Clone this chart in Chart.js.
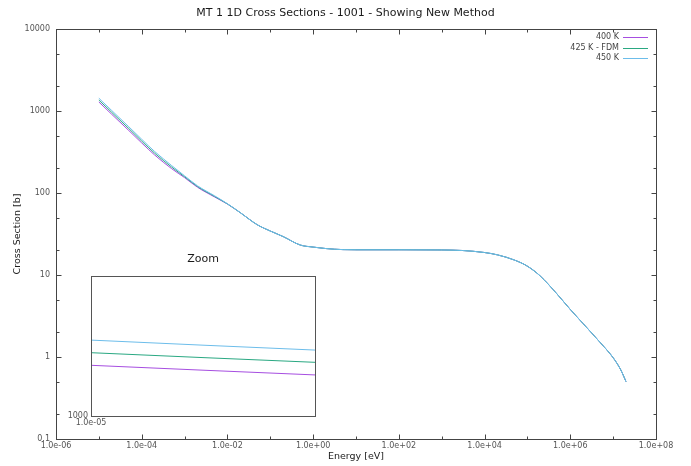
<!DOCTYPE html>
<html>
<head>
<meta charset="utf-8">
<script src="https://cdn.jsdelivr.net/npm/chart.js@4/dist/chart.umd.min.js"></script>
<style>
  html, body { margin: 0; padding: 0; background: #fff; }
  #wrap { position: relative; width: 691px; height: 466px; }
  #wrap canvas { position: absolute; left: 0; top: 0; }
</style>
</head>
<body>
<div id="wrap">
  <canvas id="main" width="691" height="466"></canvas>
  <canvas id="zoom" width="691" height="466"></canvas>
</div>
<script>
// Total cross section (MT 1) of H-1 at three temperatures, energies in eV, values in barns
const energy = [1e-5, 2e-5, 5e-5, 1e-4, 2e-4, 5e-4, 1e-3, 2e-3, 5e-3, 1e-2, 2e-2, 5e-2,
                0.1, 0.2, 0.5, 1, 2, 5, 10, 100, 1e3, 3e3, 1e4, 2e4, 5e4, 1e5, 2e5, 5e5,
                1e6, 2e6, 5e6, 1e7, 1.5e7, 2e7];
const xs400 = [1288, 911, 578, 408, 291, 198, 154, 117.5, 89.5, 73.3, 57.5, 40.9,
               34.4, 29.4, 23.2, 21.9, 21.0, 20.4, 20.3, 20.3, 20.2, 19.9, 18.8, 17.6, 15.2, 12.8, 9.7, 5.8,
               3.8, 2.55, 1.5, 0.98, 0.70, 0.5];
const xs425 = [1360, 962, 610, 430, 306, 207, 158, 120, 91, 73.6, 57.5, 40.9,
               34.4, 29.4, 23.2, 21.9, 21.0, 20.4, 20.3, 20.3, 20.2, 19.9, 18.8, 17.6, 15.2, 12.8, 9.7, 5.8,
               3.8, 2.55, 1.5, 0.98, 0.70, 0.5];
const xs450 = [1432, 1013, 642, 452, 321, 216, 162, 122.5, 92.5, 74, 57.5, 40.9,
               34.4, 29.4, 23.2, 21.9, 21.0, 20.4, 20.3, 20.3, 20.2, 19.9, 18.8, 17.6, 15.2, 12.8, 9.7, 5.8,
               3.8, 2.55, 1.5, 0.98, 0.70, 0.5];

// Close-up of the lowest energies
const zoomEnergy = [1.0e-5, 1.05e-5, 1.1e-5];
const zoom400 = [1288, 1260, 1233];
const zoom425 = [1360, 1332, 1305];
const zoom450 = [1432, 1403, 1375];

const seriesLabels = ['400 K', '425 K - FDM', '450 K'];
const seriesColors = ['#a64ee0', '#2aa882', '#6cbdea'];

const xTickValues = [1e-6, 1e-5, 1e-4, 1e-3, 1e-2, 1e-1, 1e0, 1e1, 1e2, 1e3, 1e4, 1e5, 1e6, 1e7, 1e8];
const xTickLabels = ['1.0e-06', '', '1.0e-04', '', '1.0e-02', '', '1.0e+00', '',
                     '1.0e+02', '', '1.0e+04', '', '1.0e+06', '', '1.0e+08'];
const yTickValues = [0.1, 1, 10, 100, 1000, 10000];
const yTickLabels = ['0.1', '1', '10', '100', '1000', '10000'];
const yMinorValues = [0.2, 0.5, 2, 5, 20, 50, 200, 500, 2000, 5000];

Chart.defaults.font.family = "'DejaVu Sans', sans-serif";

const pts = (xs, ys) => xs.map((x, i) => ({ x: x, y: ys[i] }));

// Frame around the plot with inward tick marks on all four sides
const frameTicks = {
  id: 'frameTicks',
  afterDatasetsDraw(chart, args, opts) {
    const { ctx, chartArea: a } = chart;
    const sx = chart.scales.x, sy = chart.scales.y;
    const L = Math.round(a.left) + 0.5, R = Math.round(a.right) + 0.5;
    const T = Math.round(a.top) + 0.5, B = Math.round(a.bottom) + 0.5;
    ctx.save();
    ctx.strokeStyle = opts.color || '#444';
    ctx.lineWidth = 1;
    ctx.beginPath();
    (opts.xMajor || []).forEach((v, i) => {
      const len = (opts.xLong && !opts.xLong[i]) ? 3 : 5;
      const p = Math.round(sx.getPixelForValue(v)) + 0.5;
      if (p <= L || p >= R) return;
      ctx.moveTo(p, B); ctx.lineTo(p, B - len);
      ctx.moveTo(p, T); ctx.lineTo(p, T + len);
    });
    (opts.yMajor || []).forEach(v => {
      const p = Math.round(sy.getPixelForValue(v)) + 0.5;
      if (p <= T || p >= B) return;
      ctx.moveTo(L, p); ctx.lineTo(L + 5, p);
      ctx.moveTo(R, p); ctx.lineTo(R - 5, p);
    });
    (opts.yMinor || []).forEach(v => {
      const p = Math.round(sy.getPixelForValue(v)) + 0.5;
      if (p <= T || p >= B) return;
      ctx.moveTo(L, p); ctx.lineTo(L + 3, p);
      ctx.moveTo(R, p); ctx.lineTo(R - 3, p);
    });
    ctx.stroke();
    ctx.strokeRect(L, T, R - L, B - T);
    ctx.restore();
  }
};

// Key in the upper right corner: label text, then a line sample
const cornerKey = {
  id: 'cornerKey',
  afterDraw(chart) {
    const { ctx, chartArea: a } = chart;
    ctx.save();
    ctx.font = "8px 'DejaVu Sans', sans-serif";
    ctx.textAlign = 'right';
    ctx.textBaseline = 'middle';
    chart.data.datasets.forEach((ds, i) => {
      const y = a.top + 8 + i * 10.5;
      ctx.fillStyle = '#444';
      ctx.fillText(ds.label, a.right - 37, y);
      ctx.strokeStyle = ds.borderColor;
      ctx.lineWidth = 1;
      ctx.beginPath();
      ctx.moveTo(a.right - 33, Math.round(y) + 0.5);
      ctx.lineTo(a.right - 8, Math.round(y) + 0.5);
      ctx.stroke();
    });
    ctx.restore();
  }
};

// White fill behind the close-up panel
const panelFill = {
  id: 'panelFill',
  beforeDatasetsDraw(chart) {
    const { ctx, chartArea: a } = chart;
    ctx.save();
    ctx.fillStyle = '#fff';
    ctx.fillRect(a.left, a.top, a.right - a.left, a.bottom - a.top);
    ctx.restore();
  }
};

const seriesData = [xs400, xs425, xs450];
new Chart(document.getElementById('main'), {
  type: 'line',
  data: {
    datasets: seriesData.map((ys, i) => ({
      label: seriesLabels[i],
      data: pts(energy, ys),
      borderColor: seriesColors[i],
      order: 2 - i
    }))
  },
  options: {
    responsive: false,
    animation: false,
    devicePixelRatio: 1,
    layout: { padding: 0 },
    elements: {
      point: { radius: 0 },
      line: { borderWidth: 1, cubicInterpolationMode: 'monotone' }
    },
    plugins: {
      legend: { display: false },
      tooltip: { enabled: false },
      title: {
        display: true,
        text: 'MT 1 1D Cross Sections - 1001 - Showing New Method',
        color: '#1a1a1a',
        font: { size: 11, weight: 'normal' },
        padding: { top: 6.5, bottom: 9.3 }
      },
      frameTicks: {
        color: '#444',
        xMajor: xTickValues,
        xLong: xTickLabels.map(s => s !== ''),
        yMajor: yTickValues,
        yMinor: yMinorValues
      }
    },
    scales: {
      x: {
        type: 'logarithmic',
        min: 1e-6, max: 1e8,
        afterBuildTicks(s) { s.ticks = xTickValues.map(v => ({ value: v })); },
        afterFit(s) { s.height = 27; },
        grid: { display: false, drawTicks: false },
        border: { display: false },
        ticks: {
          autoSkip: false, maxRotation: 0, minRotation: 0,
          color: '#555', font: { size: 8 }, padding: 2,
          callback: (v, i) => xTickLabels[i]
        },
        title: {
          display: true, text: 'Energy [eV]', color: '#1a1a1a',
          font: { size: 9.5 }, padding: { top: 0, bottom: 3.3 }
        }
      },
      y: {
        type: 'logarithmic',
        min: 0.1, max: 10000,
        afterBuildTicks(s) { s.ticks = yTickValues.map(v => ({ value: v })); },
        afterFit(s) { s.width = 56; },
        grid: { display: false, drawTicks: false },
        border: { display: false },
        ticks: {
          autoSkip: false, color: '#555', font: { size: 8 }, padding: 6,
          callback: (v, i) => yTickLabels[i]
        },
        title: {
          display: true, text: 'Cross Section [b]', color: '#1a1a1a',
          font: { size: 9.5 }, padding: { top: 12, bottom: 0 }
        }
      },
      // empty margin on the right side of the plot
      yRight: {
        type: 'linear',
        position: 'right',
        afterFit(s) { s.width = 35; },
        grid: { display: false, drawTicks: false },
        border: { display: false },
        ticks: { display: false }
      }
    }
  },
  plugins: [frameTicks, cornerKey]
});

const zoomData = [zoom400, zoom425, zoom450];
new Chart(document.getElementById('zoom'), {
  type: 'line',
  data: {
    datasets: zoomData.map((ys, i) => ({
      label: seriesLabels[i],
      data: pts(zoomEnergy, ys),
      borderColor: seriesColors[i],
      order: 2 - i
    }))
  },
  options: {
    responsive: false,
    animation: false,
    devicePixelRatio: 1,
    layout: { padding: { left: 0, right: 376, top: 252.5, bottom: 38.3 } },
    elements: { point: { radius: 0 }, line: { borderWidth: 1 } },
    plugins: {
      legend: { display: false },
      tooltip: { enabled: false },
      title: {
        display: true, text: 'Zoom', color: '#1a1a1a',
        fullSize: false,
        font: { size: 11, weight: 'normal' },
        padding: { top: 0, bottom: 10 }
      },
      frameTicks: { color: '#555' }
    },
    scales: {
      x: {
        type: 'linear',
        min: 1e-5, max: 1.1e-5,
        afterBuildTicks(s) { s.ticks = [{ value: 1e-5 }]; },
        afterFit(s) { s.height = 12; },
        grid: { display: false, drawTicks: false },
        border: { display: false },
        ticks: {
          autoSkip: false, maxRotation: 0, minRotation: 0,
          color: '#555', font: { size: 8 }, padding: 2,
          callback: () => '1.0e-05'
        }
      },
      y: {
        type: 'linear',
        min: 1000, max: 1800,
        afterBuildTicks(s) { s.ticks = [{ value: 1000 }]; },
        afterFit(s) { s.width = 91; },
        grid: { display: false, drawTicks: false },
        border: { display: false },
        ticks: { color: '#555', font: { size: 8 }, padding: 3, callback: () => '1000' }
      }
    }
  },
  plugins: [panelFill, frameTicks]
});
</script>
</body>
</html>
